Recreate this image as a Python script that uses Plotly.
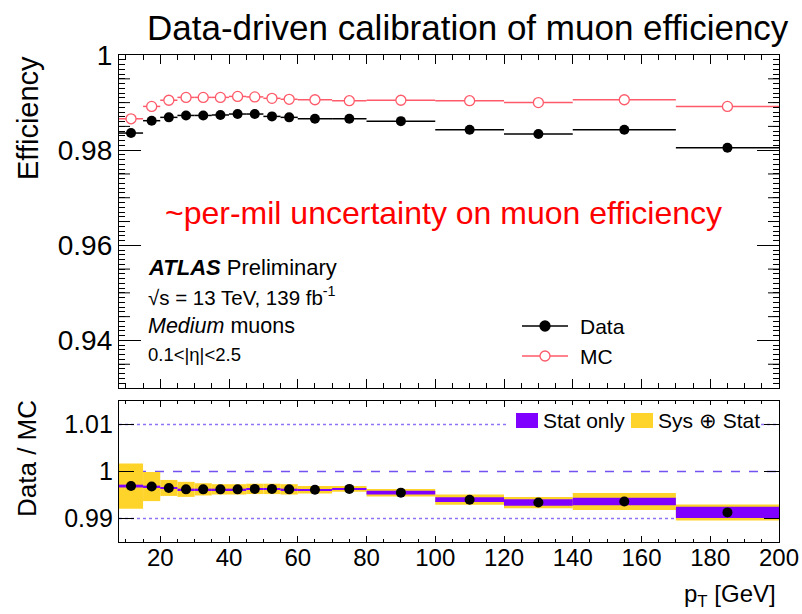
import numpy as np
import plotly.graph_objects as go

# ---- values ----
pt_edges = [8, 15, 20, 25, 30, 35, 40, 45, 50, 55, 60, 70, 80, 100, 120, 140, 170, 200]

eff_data = [0.9836, 0.9862, 0.9869, 0.9873, 0.9873, 0.9874, 0.9876, 0.9876, 0.9871,
            0.9869, 0.9866, 0.9866, 0.9861, 0.9843, 0.9834, 0.9843, 0.9805]
eff_mc = [0.9866, 0.9892, 0.9905, 0.9911, 0.9911, 0.9911, 0.9913, 0.9912, 0.9909,
          0.9907, 0.9906, 0.9904, 0.9905, 0.9904, 0.9900, 0.9906, 0.9892]

ratio = [0.9969, 0.9968, 0.9965, 0.9962, 0.9962, 0.9962, 0.9962, 0.9963, 0.9963,
         0.9962, 0.9961, 0.9963, 0.9955, 0.9940, 0.9934, 0.9936, 0.9913]
ratio_stat = [0.0003, 0.0002, 0.00015, 0.00015, 0.00015, 0.00015, 0.00015, 0.00015, 0.00015,
              0.00015, 0.0002, 0.0002, 0.0004, 0.0005, 0.0007, 0.0008, 0.0012]
ratio_tot = [0.0048, 0.0031, 0.0017, 0.0016, 0.0013, 0.0011, 0.0011, 0.0011, 0.0011,
             0.0011, 0.0008, 0.0006, 0.0008, 0.0011, 0.0012, 0.0018, 0.0017]

edges = np.array(pt_edges, dtype=float)
centers = 0.5 * (edges[1:] + edges[:-1])
widths = np.diff(edges)
half = 0.5 * widths
ratio_a = np.array(ratio)
stat_a = np.array(ratio_stat)
tot_a = np.array(ratio_tot)

FONT = "Liberation Sans, Arial, Helvetica, sans-serif"
MC_COLOR = "#ff5a6a"
STAT_COLOR = "#8000ff"
SYS_COLOR = "#ffd42a"

# page geometry (pixels) used to place the decorations in paper coordinates
W, H = 802, 614
L, R, T, B = 119, 23, 55, 72
PW, PH = W - L - R, H - T - B


def X(px):
    return (px - L) / PW


def Y(py):
    return (H - B - py) / PH


fig = go.Figure()

# ---- efficiency panel ----
fig.add_trace(go.Scatter(
    x=centers, y=eff_mc, mode="markers", name="MC",
    marker=dict(symbol="circle", size=10, color="white",
                line=dict(color=MC_COLOR, width=1.3)),
    error_x=dict(type="data", array=half, color=MC_COLOR, thickness=1.5, width=0),
    xaxis="x", yaxis="y", showlegend=False))
fig.add_trace(go.Scatter(
    x=centers, y=eff_data, mode="markers", name="Data",
    marker=dict(symbol="circle", size=10, color="black"),
    error_x=dict(type="data", array=half, color="black", thickness=1.5, width=0),
    xaxis="x", yaxis="y", showlegend=False))

# ---- ratio panel ----
fig.add_trace(go.Bar(
    x=centers, y=2 * tot_a, base=ratio_a - tot_a, width=widths,
    marker=dict(color=SYS_COLOR, line=dict(width=0)),
    xaxis="x2", yaxis="y2", showlegend=False))
fig.add_trace(go.Bar(
    x=centers, y=2 * stat_a, base=ratio_a - stat_a, width=widths,
    marker=dict(color=STAT_COLOR, line=dict(width=0)),
    xaxis="x2", yaxis="y2", showlegend=False))
fig.add_trace(go.Scatter(
    x=centers, y=ratio, mode="markers",
    marker=dict(symbol="circle", size=10, color="black"),
    xaxis="x2", yaxis="y2", showlegend=False))

top_dom = [Y(388), 1.0]
bot_dom = [0.0, Y(401)]

axis_common = dict(showline=True, linecolor="black", linewidth=1.3, mirror="ticks",
                   ticks="inside", tickcolor="black", showgrid=False, zeroline=False,
                   automargin=False)

shapes = []

# reference lines in the ratio panel
for v, dash, col in [(1.01, "dot", "#8f73f7"), (0.99, "dot", "#8f73f7"), (1.0, "dash", "#7452f2")]:
    shapes.append(dict(type="line", xref="x2 domain", yref="y2", x0=0, x1=1, y0=v, y1=v,
                       line=dict(color=col, width=1.3, dash=dash), layer="below"))

# intermediate (0.005) ticks on the efficiency axis
for v in np.arange(0.935, 1.0, 0.005):
    if abs(v / 0.02 - round(v / 0.02)) < 1e-6:
        continue
    for x0, x1 in [(0, 11 / PW), (1 - 11 / PW, 1)]:
        shapes.append(dict(type="line", xref="x domain", yref="y", x0=x0, x1=x1, y0=v, y1=v,
                           line=dict(color="black", width=1)))

# legend of the efficiency panel
for py, fill, col in [(326, "black", "black"), (356, "white", MC_COLOR)]:
    shapes.append(dict(type="line", xref="paper", yref="paper", x0=X(522), x1=X(568),
                       y0=Y(py), y1=Y(py), line=dict(color=col, width=1.5)))
    shapes.append(dict(type="circle", xref="paper", yref="paper", xsizemode="pixel",
                       ysizemode="pixel", xanchor=X(545), yanchor=Y(py),
                       x0=-5, x1=5, y0=-5, y1=5, fillcolor=fill,
                       line=dict(color=col, width=1.3)))

# legend of the ratio panel
shapes.append(dict(type="rect", xref="paper", yref="paper", x0=X(507), x1=X(760),
                   y0=Y(433), y1=Y(405), fillcolor="white", line=dict(width=0)))
shapes.append(dict(type="rect", xref="paper", yref="paper", x0=X(516), x1=X(538),
                   y0=Y(428), y1=Y(413), fillcolor=STAT_COLOR, line=dict(width=0)))
shapes.append(dict(type="rect", xref="paper", yref="paper", x0=X(631), x1=X(653),
                   y0=Y(428), y1=Y(413), fillcolor=SYS_COLOR, line=dict(width=0)))


def txt(text, px, py, size, color="black", xanchor="left", angle=0):
    return dict(text=text, x=X(px), y=Y(py), xref="paper", yref="paper",
                xanchor=xanchor, yanchor="middle", showarrow=False, textangle=angle,
                font=dict(family=FONT, size=size, color=color))


annotations = [
    txt("Data-driven calibration of muon efficiency", 145, 27, 35),
    txt("Efficiency", 28, 118, 29, xanchor="center", angle=-90),
    txt("Data / MC", 27, 459, 26, xanchor="center", angle=-90),
    txt("p<sub>T</sub> [GeV]", 778, 595, 24, xanchor="right"),
    txt("~per-mil uncertainty on muon efficiency", 163, 213, 32, color="#ff0000"),
    txt("<b><i>ATLAS</i></b> Preliminary", 146, 267, 22),
    txt("√s = 13 TeV, 139 fb<sup>-1</sup>", 146, 296, 20.5),
    txt("<i>Medium</i> muons", 146, 326, 21.5),
    txt("0.1&lt;|η|&lt;2.5", 146, 354, 18.5),
    txt("Data", 578, 326, 21),
    txt("MC", 578, 356, 21),
    txt("Stat only", 541, 420, 21),
    txt("Sys ⊕ Stat", 656, 420, 21),
]

fig.update_layout(
    width=W, height=H,
    margin=dict(l=L, r=R, t=T, b=B, pad=0),
    paper_bgcolor="white", plot_bgcolor="white",
    barmode="overlay", showlegend=False,
    font=dict(family=FONT, color="black"),
    xaxis=dict(domain=[0, 1], anchor="y", range=[8, 200], dtick=20, tick0=0, ticklen=9,
               showticklabels=False, matches="x2",
               minor=dict(dtick=5, tick0=0, ticklen=5, ticks="inside", tickcolor="black"),
               **axis_common),
    yaxis=dict(domain=top_dom, anchor="x", range=[0.93, 1.00001], dtick=0.02, tick0=0,
               ticklen=22, tickfont=dict(size=28, family=FONT),
               minor=dict(dtick=0.001, tick0=0, ticklen=6, ticks="inside", tickcolor="black"),
               **axis_common),
    xaxis2=dict(domain=[0, 1], anchor="y2", range=[8, 200], dtick=20, tick0=0, ticklen=6,
                tickfont=dict(size=24, family=FONT), ticklabelstandoff=-6,
                minor=dict(dtick=5, tick0=0, ticklen=3, ticks="inside", tickcolor="black"),
                **axis_common),
    yaxis2=dict(domain=bot_dom, anchor="x2", range=[0.985, 1.015], dtick=0.01, tick0=0,
                ticklen=15, tickfont=dict(size=25, family=FONT),
                **axis_common),
    shapes=shapes,
    annotations=annotations,
)

fig.write_html("out.html")
